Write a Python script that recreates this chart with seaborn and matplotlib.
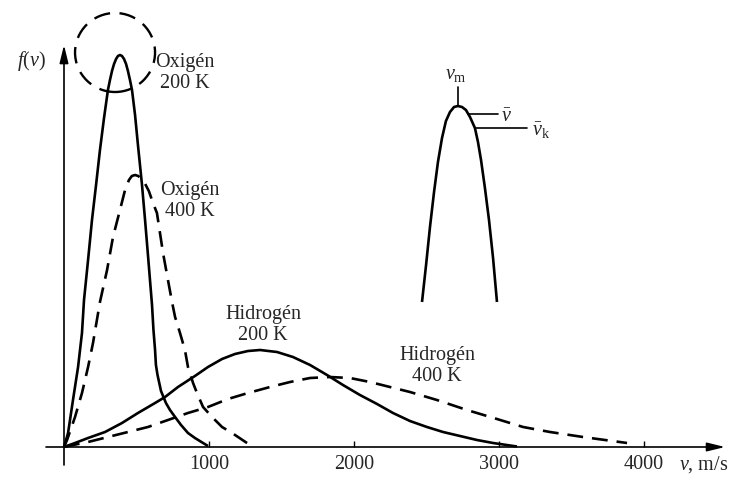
import numpy as np
import pandas as pd
import matplotlib
matplotlib.use("Agg")
import matplotlib.pyplot as plt
from matplotlib.patches import Ellipse
import seaborn as sns

# ---- data (v in m/s, f in arbitrary units) ----
o2_200_v = [0, 28, 62, 97, 124, 138, 166, 193, 221, 248, 276, 303, 317, 331, 345, 359, 372, 386,
            400, 414, 428, 441, 455, 469, 490, 510, 524, 538, 559, 579, 593, 607, 617, 628,
            634, 645, 669, 703, 731, 766, 807, 855, 903, 959, 993]
o2_200_f = [0, 14, 47, 80, 114, 147, 187, 227, 262, 297, 329, 357, 367, 376, 383, 388, 391, 392,
            391, 388, 383, 376, 367, 357, 332, 302, 282, 262, 227, 192, 167, 142, 117, 97,
            82, 72, 56, 44, 37, 30, 22, 14, 9, 4, 1]

o2_400_v = [0, 21, 76, 124, 166, 200, 248, 297, 338, 386, 421, 448, 468, 490, 512, 535, 560, 585,
            614, 641, 662, 683, 717, 745, 766, 800, 834, 855, 890, 917, 959, 1021, 1090, 1159,
            1262, 1283]
o2_400_f = [0, 7, 30, 54, 80, 104, 145, 177, 210, 237, 257, 267, 271, 272, 271, 268, 263, 256,
            244, 234, 214, 194, 167, 145, 130, 114, 97, 80, 64, 54, 40, 30, 20, 14,
            4, 2]

h2_200_v = [0, 76, 166, 283, 400, 510, 628, 697, 786, 903, 993, 1090, 1179, 1269, 1352, 1469, 1579,
            1697, 1814, 1924, 2041, 2159, 2269, 2386, 2503, 2614, 2731, 2848, 2959, 3124]
h2_200_f = [0, 4, 9, 15, 24, 34, 44, 50, 60, 71, 80, 88, 93, 96, 97, 95, 90,
            82, 72, 62, 52, 43, 34, 26, 20, 15, 11, 7, 4, 0.5]

h2_400_v = [0, 28, 166, 303, 441, 579, 717, 855, 993, 1131, 1269, 1421, 1559, 1697, 1834, 1972,
            2110, 2248, 2386, 2572, 2779, 2986, 3166, 3352, 3579, 3883]
h2_400_f = [0, 1, 5, 10, 15, 20, 27, 34, 40, 48, 54, 60, 65, 69, 70, 69,
            65, 60, 55, 47, 37, 28, 20, 15, 10, 4]

# inset (schematic peak) drawn in the same data units
inset_v = [2469, 2497, 2524, 2552, 2579, 2607, 2634, 2662, 2690, 2717, 2745, 2772, 2800, 2834,
           2855, 2876, 2903, 2931, 2959, 2986]
inset_f = [145, 182, 220, 255, 285, 309, 326, 335, 340, 341, 340, 337, 330, 319,
           305, 287, 259, 227, 189, 145]

# marker lines of the inset: v_m (vertical), v-bar and v_k (horizontal)
vm_v, vm_f = [2717, 2717], [341, 360]
vbar_v, vbar_f = [2786, 2993], [333, 333]
vk_v, vk_f = [2834, 3193], [319, 319]

x_ticks = [1000, 2000, 3000, 4000]
x_tick_labels = ["1000", "2000", "3000", "4000"]

curve_labels = ["Oxigén\n200 K", "Oxigén\n400 K", "Hidrogén\n200 K", "Hidrogén\n400 K"]

# ---- style ----
sns.set_theme(style="white")
plt.rcParams["font.family"] = ["Liberation Serif", "DejaVu Serif"]
plt.rcParams["mathtext.fontset"] = "custom"
plt.rcParams["mathtext.rm"] = "Liberation Serif"
plt.rcParams["mathtext.it"] = "Liberation Serif:italic"

fig = plt.figure(figsize=(7.31, 4.78), dpi=100)
ax = fig.add_axes([0, 0, 1, 1])
ax.set_facecolor("white")

px = 0.145  # pixels per m/s
ax.set_xlim(-64 / px, (731 - 64) / px)
ax.set_ylim(-31, 447)

lw = 1.9
dash = (6.0, 3.4)

curves = [
    (o2_200_v, o2_200_f, "solid"),
    (o2_400_v, o2_400_f, "dashed"),
    (h2_200_v, h2_200_f, "solid"),
    (h2_400_v, h2_400_f, "dashed"),
    (inset_v, inset_f, "solid"),
]
for v, f, style in curves:
    df = pd.DataFrame({"v": v, "f": f})
    sns.lineplot(data=df, x="v", y="f", ax=ax, color="black", lw=lw,
                 sort=False, estimator=None)
    l = ax.lines[-1]
    l.set_solid_capstyle("butt")
    l.set_solid_joinstyle("round")
    if style == "dashed":
        l.set_dashes(dash)

for v, f in [(vm_v, vm_f), (vbar_v, vbar_f), (vk_v, vk_f)]:
    ax.plot(v, f, color="black", lw=1.2)

ax.text(2700, 373, r"$v_{\mathrm{m}}$", fontsize=14.5, ha="center", va="center")
ax.text(3050, 330, r"$\bar{v}$", fontsize=14.5, ha="center", va="center")
ax.text(3290, 316, r"$\bar{v}_{\mathrm{k}}$", fontsize=14.5, ha="center", va="center")

# dashed circle around the O2 200 K peak
circ = Ellipse((352, 394.5), width=80 / px, height=79, fill=False, edgecolor="black",
               lw=1.7, linestyle=(0, (7, 4)))
ax.add_patch(circ)

# axes drawn as arrows
for s in ax.spines.values():
    s.set_visible(False)
ax.spines["bottom"].set_position(("data", 0))
ax.annotate("", xy=(4559, 0), xytext=(-124, 0),
            arrowprops=dict(arrowstyle="-|>,head_length=0.9,head_width=0.22", lw=1.2,
                            color="black", shrinkA=0, shrinkB=0))
ax.annotate("", xy=(0, 402), xytext=(0, -18),
            arrowprops=dict(arrowstyle="-|>,head_length=0.9,head_width=0.22", lw=1.2,
                            color="black", shrinkA=0, shrinkB=0))

ax.set_xticks(x_ticks)
ax.set_xticklabels(x_tick_labels)
ax.set_yticks([])
ax.tick_params(axis="x", direction="in", length=4.3, width=1.0, color="black",
               labelsize=14.5, pad=6, bottom=True)
ax.set_xlabel("")
ax.set_ylabel("")

ax.text(4585, -18, r"$v$, m/s", fontsize=14.5, ha="right", va="center")
ax.text(-221, 386, r"$f(v)$", fontsize=14.5, ha="center", va="center")

label_pos = [(835, 374), (869, 246), (1372, 122), (2572, 81)]
for (xv, yf), txt in zip(label_pos, curve_labels):
    ax.text(xv, yf, txt, fontsize=14.5, ha="center", va="center", linespacing=1.1)

fig.savefig("out.png", dpi=100, facecolor="white")
